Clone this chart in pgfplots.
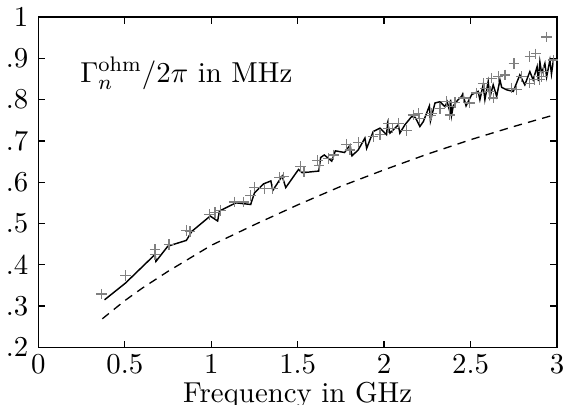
\documentclass[11pt,border=0pt]{standalone}
\usepackage{pgfplots}
\pgfplotsset{compat=1.18}

\begin{document}
\begin{tikzpicture}
\begin{axis}[
    scale only axis,
    width=197pt, height=125.4pt,
    xmin=0, xmax=3,
    ymin=0.2, ymax=1,
    xtick={0,0.5,...,3},
    ytick={0.2,0.3,0.4,0.5,0.6,0.7,0.8,0.9,1},
    yticklabels={.2,.3,.4,.5,.6,.7,.8,.9,1},
    major tick length=2.5pt,
    tick align=inside,
    xlabel={Frequency in GHz},
    xlabel style={yshift=4pt},
    xticklabel style={yshift=1pt},
    axis line style={line width=0.5pt},
    every tick/.style={line width=0.5pt, black},
]
% measured rates (grey crosses)
\addplot[only marks, mark=+, mark size=2pt, color=black!50, line width=0.45pt] coordinates {
(0.366,0.329) (0.505,0.374) (0.675,0.437) (0.675,0.425) (0.756,0.449)
(0.856,0.483) (0.877,0.481) (0.990,0.522) (1.022,0.526) (1.054,0.532)
(1.133,0.552) (1.186,0.552) (1.228,0.568) (1.250,0.588) (1.309,0.584)
(1.356,0.584) (1.395,0.611) (1.420,0.613) (1.516,0.638) (1.537,0.626)
(1.616,0.653) (1.624,0.641) (1.676,0.657) (1.707,0.666) (1.782,0.692)
(1.803,0.678) (1.850,0.696) (1.937,0.711) (1.976,0.715) (2.024,0.743)
(2.024,0.731) (2.050,0.731) (2.082,0.743) (2.130,0.725) (2.168,0.763)
(2.197,0.767) (2.207,0.755) (2.267,0.761) (2.275,0.767) (2.323,0.779)
(2.361,0.795) (2.380,0.763) (2.380,0.783) (2.410,0.793) (2.458,0.804)
(2.496,0.792) (2.535,0.816) (2.573,0.840) (2.583,0.828) (2.612,0.820)
(2.622,0.852) (2.631,0.804) (2.660,0.856) (2.699,0.860) (2.737,0.828)
(2.751,0.888) (2.766,0.824) (2.795,0.856) (2.843,0.905) (2.843,0.840)
(2.872,0.848) (2.878,0.911) (2.901,0.848) (2.911,0.856) (2.920,0.868)
(2.940,0.952) (2.978,0.896)
};
% computed rates (solid)
\addplot[black, line width=0.55pt] coordinates {
(0.383,0.315) (0.505,0.356) (0.675,0.425) (0.680,0.408) (0.749,0.445)
(0.856,0.459) (0.888,0.481) (0.994,0.518) (1.037,0.506) (1.047,0.530)
(1.143,0.550) (1.228,0.546) (1.250,0.574) (1.303,0.596) (1.345,0.603)
(1.356,0.580) (1.410,0.615) (1.431,0.587) (1.505,0.631) (1.526,0.623)
(1.622,0.627) (1.633,0.660) (1.654,0.666) (1.697,0.651) (1.718,0.676)
(1.771,0.672) (1.803,0.690) (1.814,0.664) (1.850,0.678) (1.889,0.707)
(1.899,0.682) (1.937,0.723) (1.976,0.731) (1.995,0.723) (2.014,0.715)
(2.020,0.742) (2.034,0.719) (2.053,0.727) (2.082,0.739) (2.091,0.719)
(2.120,0.739) (2.159,0.759) (2.180,0.757) (2.207,0.735) (2.227,0.747)
(2.262,0.785) (2.268,0.748) (2.294,0.792) (2.323,0.795) (2.352,0.783)
(2.365,0.795) (2.380,0.771) (2.385,0.800) (2.390,0.762) (2.400,0.785)
(2.428,0.800) (2.448,0.808) (2.455,0.814) (2.474,0.785) (2.506,0.812)
(2.544,0.820) (2.554,0.800) (2.573,0.836) (2.583,0.800) (2.602,0.844)
(2.612,0.806) (2.631,0.836) (2.651,0.808) (2.670,0.848) (2.680,0.830)
(2.708,0.824) (2.747,0.820) (2.785,0.860) (2.814,0.836) (2.843,0.868)
(2.862,0.848) (2.885,0.880) (2.892,0.845) (2.901,0.892) (2.911,0.864)
(2.930,0.888) (2.940,0.855) (2.959,0.896) (2.968,0.862) (2.980,0.898)
(3.000,0.898) (3.000,0.852)
};
% model (dashed)
\addplot[black, line width=0.5pt, dash pattern=on 3.2pt off 2.4pt] coordinates {
(0.37,0.269) (0.50,0.313) (0.60,0.343) (0.75,0.384) (1.00,0.447)
(1.25,0.497) (1.50,0.545) (1.75,0.590) (2.00,0.630) (2.25,0.668)
(2.50,0.703) (2.75,0.735) (3.00,0.765)
};
\node[anchor=base west, inner sep=0pt] at (axis cs:0.24,0.842) {$\Gamma_n^{\mathrm{ohm}}/2\pi$ in MHz};
\coordinate (bbl) at (rel axis cs:-0.074,-0.174);
\coordinate (btr) at (rel axis cs:1.0386,1.052);
\end{axis}
\pgfresetboundingbox
\path (bbl) rectangle (btr);
\end{tikzpicture}
\end{document}
